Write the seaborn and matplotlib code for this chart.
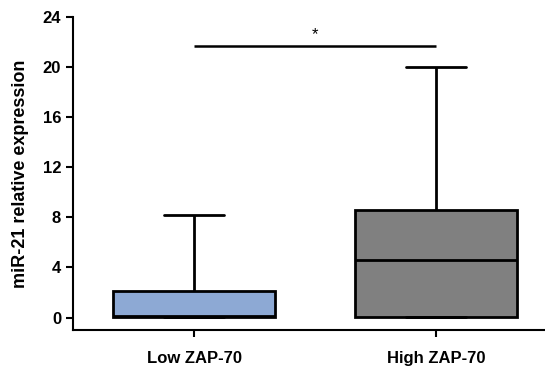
import pandas as pd
import matplotlib.pyplot as plt
import seaborn as sns

# ========== Data (5-number summaries) ==========
groups = ['Low ZAP-70', 'High ZAP-70']
low_vals = [0.05, 0.05, 0.1, 2.1, 8.2]     # min, q1, median, q3, max
high_vals = [0.05, 0.05, 4.6, 8.6, 20.0]
box_colors = ['#8DA9D4', '#808080']
y_ticks = [0, 4, 8, 12, 16, 20, 24]

df = pd.DataFrame({
    'group': [groups[0]] * len(low_vals) + [groups[1]] * len(high_vals),
    'value': low_vals + high_vals,
})

# ========== Plot ==========
sns.set_style('ticks')
plt.rcParams['font.family'] = ['Liberation Sans', 'DejaVu Sans']
plt.rcParams['text.color'] = 'black'
plt.rcParams['axes.labelcolor'] = 'black'
plt.rcParams['xtick.color'] = 'black'
plt.rcParams['ytick.color'] = 'black'

fig = plt.figure(figsize=(5.45, 3.68), dpi=100)
ax = fig.add_axes([0.134, 0.103, 0.866, 0.851])

sns.boxplot(data=df, x='group', y='value', hue='group', order=groups,
            palette=box_colors, saturation=1, whis=(0, 100), width=0.667,
            linecolor='black', linewidth=2, legend=False, ax=ax)

# shorten the whisker caps a bit
for ln in ax.lines:
    xs, ys = ln.get_xdata(), ln.get_ydata()
    if len(xs) == 2 and ys[0] == ys[1] and 0.3 < abs(xs[1] - xs[0]) < 0.36:
        c = (xs[0] + xs[1]) / 2
        ln.set_xdata([c - 0.123, c + 0.123])

# significance bar
ax.plot([0, 1], [21.7, 21.7], color='black', lw=1.8, solid_capstyle='butt')
ax.text(0.5, 22.0, '*', ha='center', va='bottom', fontsize=12)

ax.set_ylim(-1, 24)
ax.set_xlim(-0.5, 1.45)
ax.set_yticks(y_ticks)
ax.set_xlabel('')
ax.set_ylabel('miR-21 relative expression', fontsize=13, fontweight='bold', labelpad=10)
ax.tick_params(axis='both', width=1.5, length=5, labelsize=12, color='black')
ax.tick_params(axis='x', pad=10)
for lab in ax.get_xticklabels() + ax.get_yticklabels():
    lab.set_fontweight('bold')

sns.despine(ax=ax)
for side in ['left', 'bottom']:
    ax.spines[side].set_linewidth(1.5)
    ax.spines[side].set_color('black')

fig.savefig('out.png', dpi=100)
